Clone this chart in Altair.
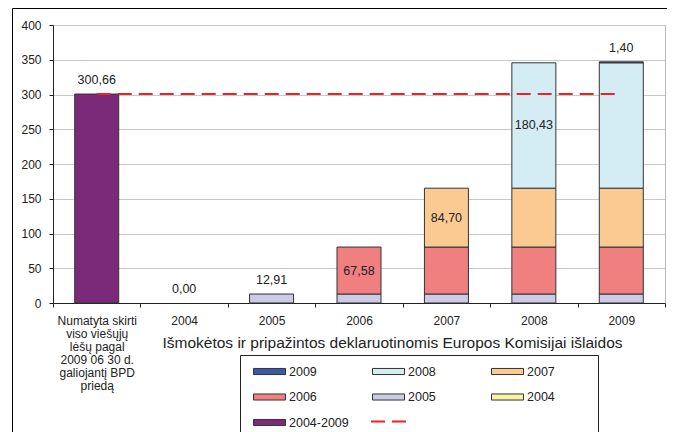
import altair as alt
import pandas as pd

# ---------------- data ----------------
categories = [
    "Numatyta skirti\nviso viešųjų\nlėšų pagal\n2009 06 30 d.\ngaliojantį BPD\npriedą",
    "2004", "2005", "2006", "2007", "2008", "2009",
]
legend_series = ["2009", "2008", "2007", "2006", "2005", "2004", "2004-2009"]
legend_colors = ["#3a5aa8", "#d4ecf3", "#fbca93", "#f08080", "#cbcbe6", "#f8f4a0", "#7b2a7a"]
stack_order = ["2004-2009", "2004", "2005", "2006", "2007", "2008", "2009"]  # bottom -> top

s_2004_2009 = [300.66, 0, 0, 0, 0, 0, 0]
s_2004 = [0, 0, 0, 0, 0, 0, 0]
s_2005 = [0, 0, 12.91, 12.91, 12.91, 12.91, 12.91]
s_2006 = [0, 0, 0, 67.58, 67.58, 67.58, 67.58]
s_2007 = [0, 0, 0, 0, 84.70, 84.70, 84.70]
s_2008 = [0, 0, 0, 0, 0, 180.43, 180.43]
s_2009 = [0, 0, 0, 0, 0, 0, 1.40]
series_values = {
    "2004-2009": s_2004_2009, "2004": s_2004, "2005": s_2005, "2006": s_2006,
    "2007": s_2007, "2008": s_2008, "2009": s_2009,
}

label_series = ["2004-2009", "2004", "2005", "2006", "2007", "2008", "2009"]
label_values = [300.66, 0.00, 12.91, 67.58, 84.70, 180.43, 1.40]
label_inside = [False, False, False, True, True, True, False]

planned_total = 300.66
y_ticks = [0, 50, 100, 150, 200, 250, 300, 350, 400]
axis_title = "Išmokėtos ir pripažintos deklaruotinomis Europos Komisijai išlaidos"

# ---------------- tables ----------------
bar_rows = []
seg = {}
for i, cat in enumerate(categories):
    base = 0.0
    for s in stack_order:
        v = series_values[s][i]
        seg[(cat, s)] = (base, base + v)
        if v > 0:
            bar_rows.append({"cat": cat, "series": s, "y0": base, "y1": base + v})
        base += v
bars_df = pd.DataFrame(bar_rows)

lab_rows = []
for i, cat in enumerate(categories):
    y0, y1 = seg[(cat, label_series[i])]
    inside = label_inside[i]
    lab_rows.append({
        "cat": cat,
        "txt": f"{label_values[i]:.2f}".replace(".", ","),
        "y": (y0 + y1) / 2 if inside else y1,
        "inside": inside,
    })
labels_df = pd.DataFrame(lab_rows)

rule_df = pd.DataFrame([{"cat": categories[0], "cat2": categories[-1], "y": planned_total, "kind": "plan"}])

FONT = "Liberation Sans"
TXT = "#222222"

x_scale = alt.Scale(domain=categories, paddingInner=0, paddingOuter=0)
y_scale = alt.Scale(domain=[0, 400])

x_axis = alt.Axis(
    title=axis_title, labelAngle=0, labelOverlap=False, tickBand="extent",
    labelExpr="split(datum.label, '\\n')", labelLineHeight=13, labelFontSize=12,
    labelPadding=8, tickSize=4, tickColor="#222", domainColor="#222", grid=False,
    titleX=339, titleY=39, titleAlign="center", titleBaseline="middle",
    titleFontSize=15.5, titleFontWeight="normal", titleColor=TXT, labelColor=TXT,
)
y_axis = alt.Axis(
    title=None, values=y_ticks, tickSize=4, labelOverlap=False,
    labelPadding=8, labelFontSize=12, labelColor=TXT, tickColor="#222",
    domainColor="#222", gridColor="#c8c8c8",
)

X = alt.X("cat:N", scale=x_scale, axis=x_axis, sort=categories)

bars = alt.Chart(bars_df).mark_bar(size=44, stroke="#333333", strokeWidth=1).encode(
    x=X,
    y=alt.Y("y1:Q", scale=y_scale, axis=y_axis),
    y2="y0:Q",
    color=alt.Color(
        "series:N",
        scale=alt.Scale(domain=legend_series, range=legend_colors),
        legend=alt.Legend(
            orient="none", legendX=200, legendY=330, columns=3, direction="horizontal",
            title=None, symbolType="M-1,-0.19H1V0.19H-1Z", symbolSize=1024,
            symbolStrokeColor="#333333", symbolStrokeWidth=1, symbolOpacity=1,
            labelFontSize=12.5, labelColor=TXT, labelOffset=3, labelFont=FONT,
            columnPadding=21, rowPadding=2.5, gridAlign="all", padding=0,
        ),
    ),
)

rule = alt.Chart(rule_df).mark_rule(color="#ee2222", strokeWidth=2).encode(
    x=X,
    x2="cat2:N",
    y=alt.Y("y:Q", scale=y_scale, axis=y_axis),
    strokeDash=alt.StrokeDash(
        "kind:N",
        scale=alt.Scale(domain=["plan"], range=[[14, 7]]),
        legend=alt.Legend(
            orient="none", legendX=317, legendY=378, title=None, labelExpr="''",
            symbolType="stroke", symbolSize=1225, symbolStrokeColor="#ee2222",
            symbolStrokeWidth=2, symbolDash=[12, 10], padding=0,
        ),
    ),
)

text_above = alt.Chart(labels_df).transform_filter("!datum.inside").mark_text(
    dy=-14, fontSize=12.5, color=TXT, font=FONT, baseline="middle"
).encode(
    x=X,
    y=alt.Y("y:Q", scale=y_scale, axis=y_axis),
    text="txt:N",
)
text_inside = alt.Chart(labels_df).transform_filter("datum.inside").mark_text(
    fontSize=12.5, color=TXT, font=FONT, baseline="middle"
).encode(
    x=X,
    y=alt.Y("y:Q", scale=y_scale, axis=y_axis),
    text="txt:N",
)

frame = alt.Chart(alt.Data(values=[{"f": 1}])).mark_rect(
    fill=None, stroke="#000000", strokeWidth=1
).encode(
    x=alt.value(-40.5), x2=alt.value(615.5), y=alt.value(-16.5), y2=alt.value(520),
)
legend_box = alt.Chart(alt.Data(values=[{"f": 1}])).mark_rect(
    fill=None, stroke="#222222", strokeWidth=1
).encode(
    x=alt.value(187.5), x2=alt.value(545.5), y=alt.value(330.5), y2=alt.value(520),
)

chart = alt.layer(bars, rule, text_above, text_inside, frame, legend_box).properties(
    width=612, height=278,
    autosize=alt.AutoSizeParams(type="none"),
    padding={"left": 45, "top": 17, "right": 2, "bottom": 129},
).configure(font=FONT).configure_view(stroke="#b8b8b8")

chart.save("out.html", embed_options={"renderer": "svg", "actions": False})
